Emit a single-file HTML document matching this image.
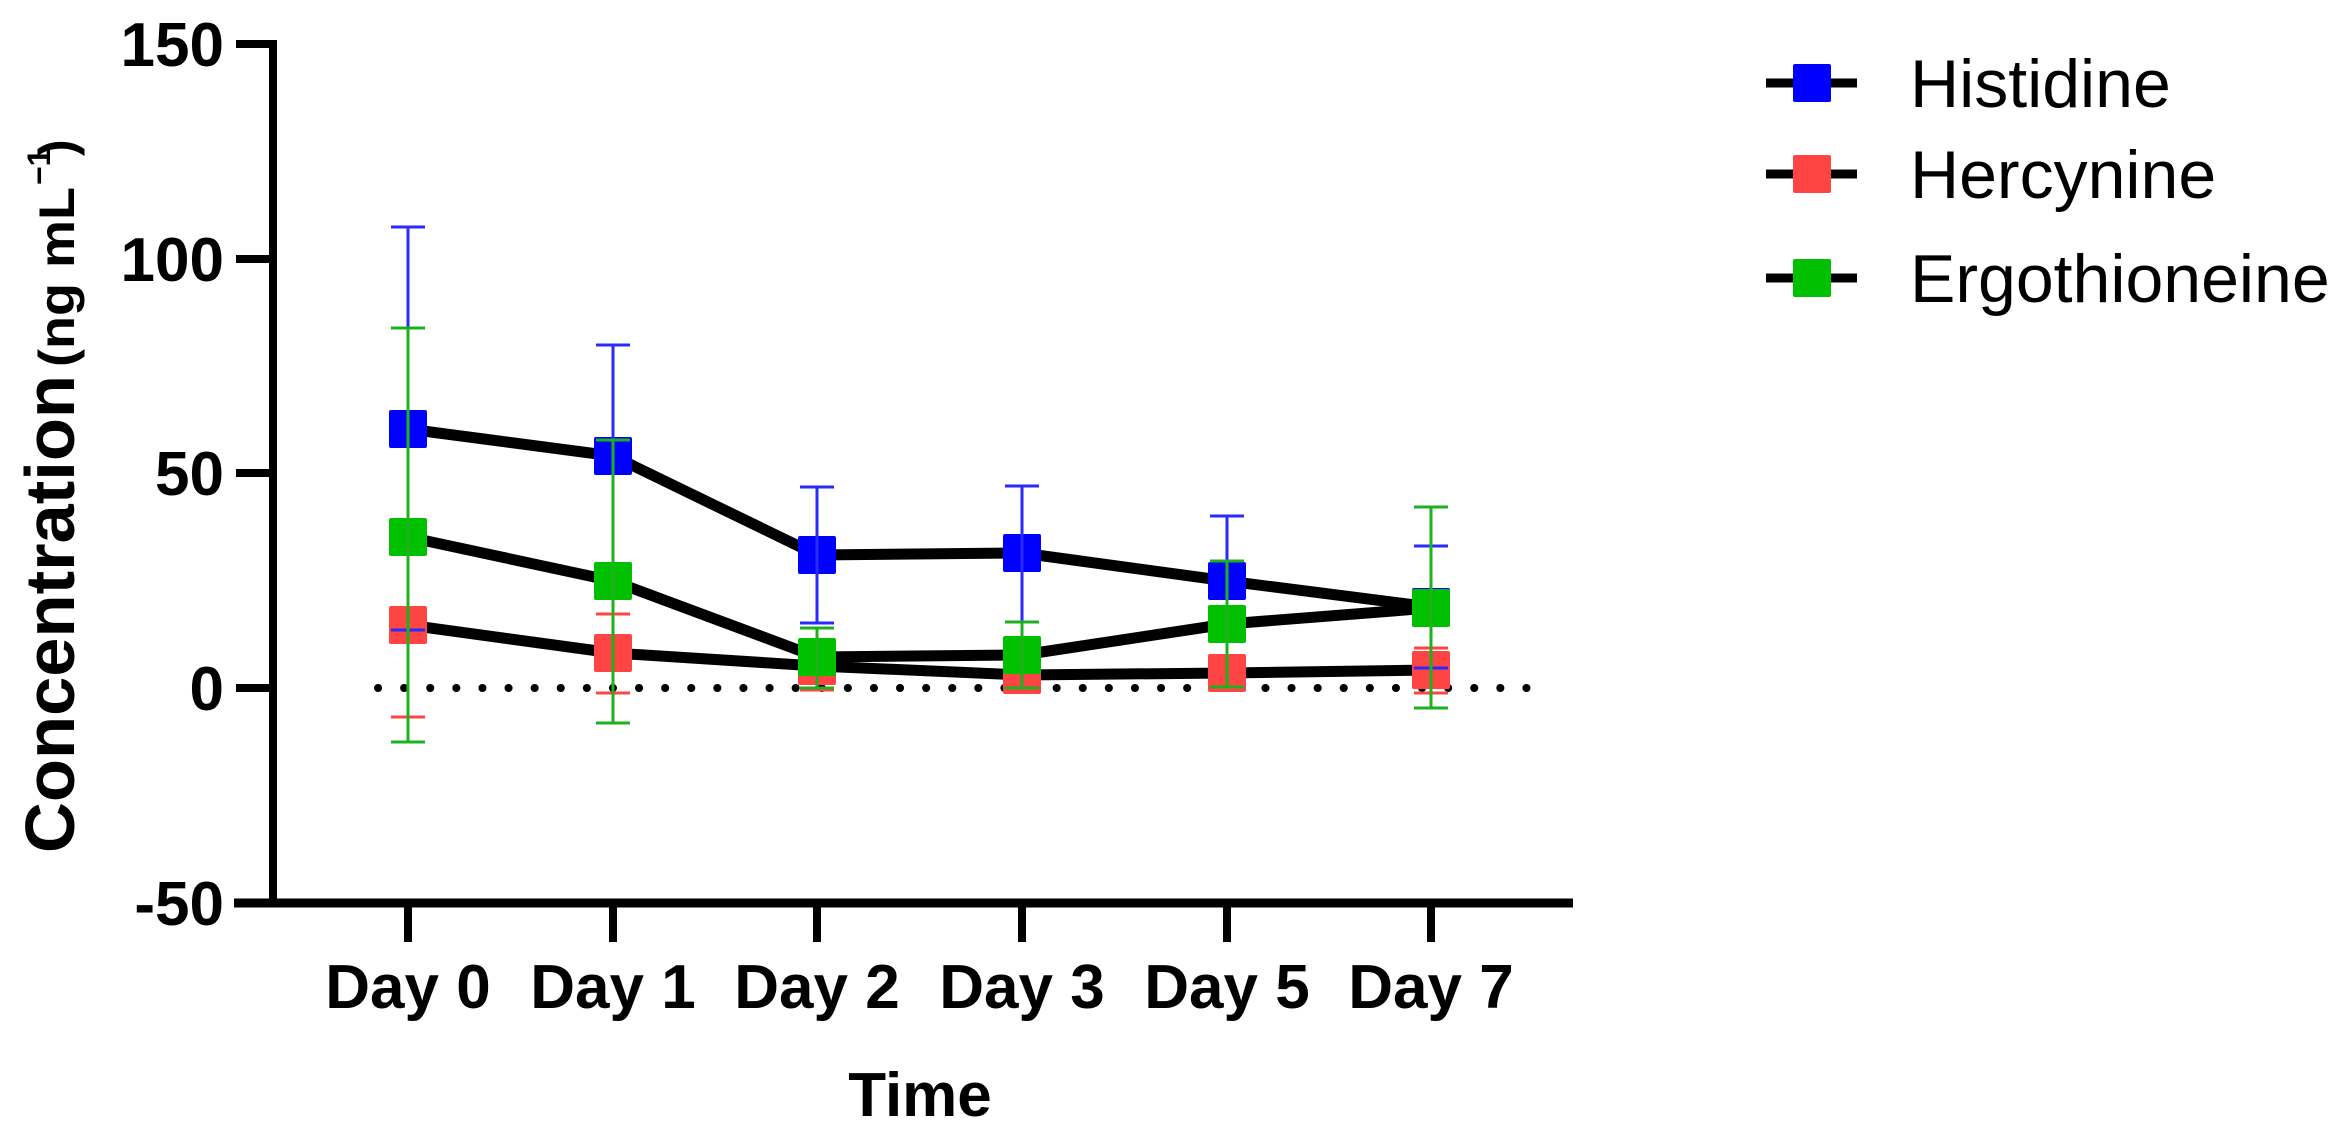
<!DOCTYPE html>
<html><head><meta charset="utf-8"><style>
html,body{margin:0;padding:0;background:#fff;}
svg{display:block;}
text{font-family:"Liberation Sans",Arial,sans-serif;}
</style></head><body>
<svg width="2348" height="1130" viewBox="0 0 2348 1130" xmlns="http://www.w3.org/2000/svg">
<!-- axes -->
<line x1="273" y1="40" x2="273" y2="907" stroke="#000" stroke-width="8"/>
<line x1="234" y1="903" x2="1573" y2="903" stroke="#000" stroke-width="9"/>
<g stroke="#000" stroke-width="8">
<line x1="236" y1="44" x2="273" y2="44"/>
<line x1="236" y1="259" x2="273" y2="259"/>
<line x1="236" y1="473" x2="273" y2="473"/>
<line x1="236" y1="688" x2="273" y2="688"/>
<line x1="236" y1="903" x2="273" y2="903"/>
<line x1="408" y1="903" x2="408" y2="942"/>
<line x1="613" y1="903" x2="613" y2="942"/>
<line x1="817" y1="903" x2="817" y2="942"/>
<line x1="1022" y1="903" x2="1022" y2="942"/>
<line x1="1227" y1="903" x2="1227" y2="942"/>
<line x1="1431" y1="903" x2="1431" y2="942"/>
</g>
<g font-size="62" font-weight="bold" text-anchor="end">
<text x="224" y="66">150</text>
<text x="224" y="281">100</text>
<text x="224" y="495">50</text>
<text x="224" y="710">0</text>
<text x="224" y="925">-50</text>
</g>
<g font-size="62" font-weight="bold" text-anchor="middle">
<text x="408" y="1008">Day 0</text>
<text x="613" y="1008">Day 1</text>
<text x="817" y="1008">Day 2</text>
<text x="1022" y="1008">Day 3</text>
<text x="1227" y="1008">Day 5</text>
<text x="1431" y="1008">Day 7</text>
<text x="920" y="1116">Time</text>
</g>
<g transform="translate(74,0) rotate(-90)" font-weight="bold">
<text x="-853" y="0" font-size="70" textLength="478" lengthAdjust="spacingAndGlyphs">Concentration</text>
<text x="-367" y="0" font-size="50" textLength="180" lengthAdjust="spacingAndGlyphs">(ng mL</text>
<text x="-185" y="-24" font-size="32">−1</text>
<text x="-156" y="0" font-size="50">)</text>
</g>
<!-- zero dotted line -->
<line x1="378" y1="688" x2="1545" y2="688" stroke="#000" stroke-width="8" stroke-linecap="round" stroke-dasharray="0.1 26"/>
<!-- series lines -->
<g fill="none" stroke="#000" stroke-width="11" stroke-linejoin="round">
<polyline points="408,429 613,456 817,555 1022,553 1227,581 1431,607"/>
<polyline points="408,625 613,653 817,666 1022,675 1227,673 1431,670"/>
<polyline points="408,537 613,581 817,657 1022,655 1227,624 1431,608"/>
</g>
<!-- markers -->
<g fill="#0000ff">
<rect x="389" y="410" width="38" height="38" rx="2"/><rect x="594" y="437" width="38" height="38" rx="2"/><rect x="798" y="536" width="38" height="38" rx="2"/><rect x="1003" y="534" width="38" height="38" rx="2"/><rect x="1208" y="562" width="38" height="38" rx="2"/><rect x="1412" y="588" width="38" height="38" rx="2"/>
</g>
<g fill="#ff4444">
<rect x="389" y="606" width="38" height="38" rx="2"/><rect x="594" y="634" width="38" height="38" rx="2"/><rect x="798" y="647" width="38" height="38" rx="2"/><rect x="1003" y="656" width="38" height="38" rx="2"/><rect x="1208" y="654" width="38" height="38" rx="2"/><rect x="1412" y="651" width="38" height="38" rx="2"/>
</g>
<!-- error bars -->
<g stroke="#2a2aff" stroke-width="3" fill="none">
<path d="M408,227V630M391,227h34M391,630h34"/>
<path d="M613,345V568M596,345h34"/>
<path d="M817,487V623M800,487h34M800,623h34"/>
<path d="M1022,486V622M1005,486h34M1005,622h34"/>
<path d="M1227,516V645M1210,516h34"/>
<path d="M1431,546V668M1414,546h34M1414,668h34"/>
</g>
<g stroke="#ff4444" stroke-width="3" fill="none">
<path d="M408,717V625M391,717h34"/>
<path d="M613,614V693M596,614h34M596,693h34"/>
<path d="M817,678V690M800,678h34M800,690h34"/>
<path d="M1022,666V690M1005,666h34M1005,690h34"/>
<path d="M1227,658V690M1210,658h34M1210,690h34"/>
<path d="M1431,648V693M1414,648h34M1414,693h34"/>
</g>
<g fill="#00c000">
<rect x="389" y="518" width="38" height="38" rx="2"/><rect x="594" y="562" width="38" height="38" rx="2"/><rect x="798" y="638" width="38" height="38" rx="2"/><rect x="1003" y="636" width="38" height="38" rx="2"/><rect x="1208" y="605" width="38" height="38" rx="2"/><rect x="1412" y="589" width="38" height="38" rx="2"/>
</g>
<g stroke="#1fb01f" stroke-width="3" fill="none">
<path d="M408,328V742M391,328h34M391,742h34"/>
<path d="M613,440V723M596,440h34M596,723h34"/>
<path d="M817,628V688M800,628h34M800,688h34"/>
<path d="M1022,622V688M1005,622h34M1005,688h34"/>
<path d="M1227,561V687M1210,561h34M1210,687h34"/>
<path d="M1431,507V708M1414,507h34M1414,708h34"/>
</g>
<!-- legend -->
<g stroke="#000" stroke-width="9">
<line x1="1766" y1="83" x2="1857" y2="83"/>
<line x1="1766" y1="174" x2="1857" y2="174"/>
<line x1="1766" y1="278" x2="1857" y2="278"/>
</g>
<rect x="1793" y="64" width="38" height="38" rx="2" fill="#0000ff"/>
<rect x="1793" y="155" width="38" height="38" rx="2" fill="#ff4444"/>
<rect x="1793" y="259" width="38" height="38" rx="2" fill="#00c000"/>
<g font-size="68">
<text x="1910" y="107">Histidine</text>
<text x="1910" y="198">Hercynine</text>
<text x="1910" y="302">Ergothioneine</text>
</g>
</svg>
</body></html>
